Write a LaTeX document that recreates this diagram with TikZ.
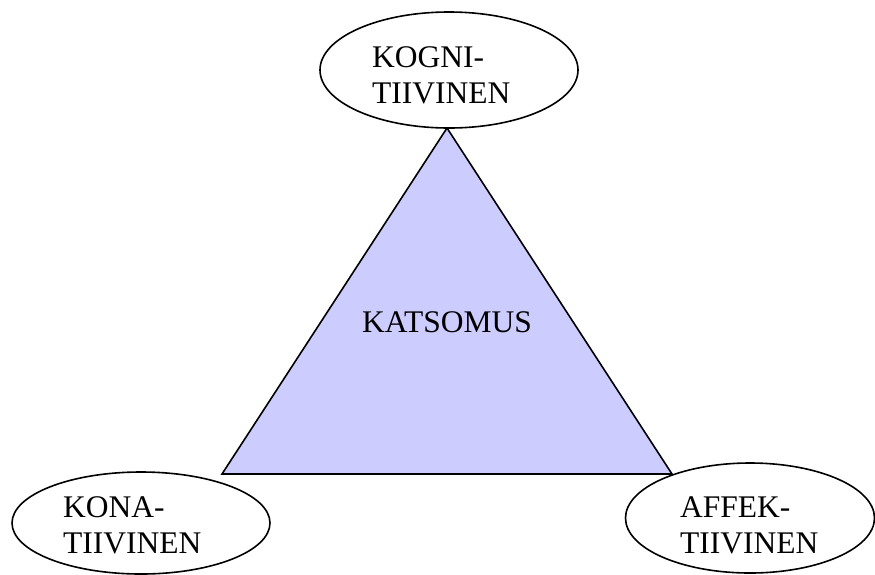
\documentclass[tikz,border=0pt]{standalone}
\usepackage{fontspec}
\setmainfont{Liberation Serif}
\definecolor{kolmio}{RGB}{204,204,255}
\tikzset{
  ell/.style={draw,line width=1.6pt,fill=white,ellipse,inner sep=0pt},
  lbl/.style={font=\fontsize{31.5}{36}\selectfont,align=left,inner sep=0pt,anchor=base west}
}
\usetikzlibrary{shapes.geometric}
\begin{document}
\begin{tikzpicture}[x=1pt,y=-1pt]
			\useasboundingbox (0,0) rectangle (875,574);

			% Kolmio
			\coordinate (ylä) at (447,128);
			\coordinate (va) at (222,474);
			\coordinate (oa) at (672,474);
			\filldraw[fill=kolmio,line width=1.6pt,line join=miter] (ylä) -- (va) -- (oa) -- cycle;
			\node[lbl] (kats) at (362,332) {KATSOMUS};

			% Ellipsit
			\node[ell,minimum width=258pt,minimum height=116pt] (kog) at (449,70) {};
			\node[ell,minimum width=258pt,minimum height=102pt] (kon) at (141,523) {};
			\node[ell,minimum width=249pt,minimum height=110pt] (aff) at (750,518) {};

			% Tekstit
			\node[lbl] (kogt) at (372,103) {KOGNI-\\TIIVINEN};
			\node[lbl] (kont) at (63,553) {KONA-\\TIIVINEN};
			\node[lbl] (afft) at (680,553) {AFFEK-\\TIIVINEN};

		\end{tikzpicture}
\end{document}
